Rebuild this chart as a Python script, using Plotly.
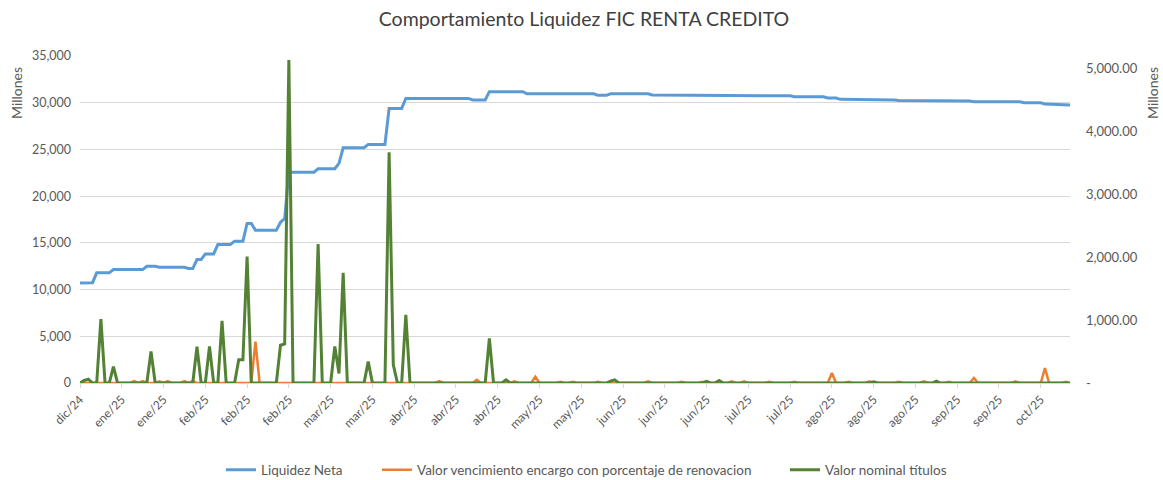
"""
Comportamiento Liquidez FIC RENTA CREDITO - linea de liquidez neta (eje izq.)
con vencimientos y valor nominal de titulos (eje der.), estilo Excel.
"""

import plotly.graph_objects as go

# ---------------------------------------------------------------------------
# Datos (millones), un punto por dia habil
# ---------------------------------------------------------------------------

liquidez_neta = [
    10710, 10710, 10740, 10740, 11790, 11790, 11790, 11790, 12140, 12140,
    12140, 12140, 12140, 12140, 12140, 12140, 12500, 12500, 12500, 12390,
    12390, 12390, 12390, 12390, 12390, 12390, 12250, 12250, 13210, 13210,
    13820, 13820, 13820, 14820, 14820, 14820, 14820, 15180, 15180, 15180,
    17070, 17070, 16360, 16360, 16360, 16360, 16360, 16360, 17200, 17600,
    22570, 22570, 22570, 22570, 22570, 22570, 22570, 22930, 22930, 22930,
    22930, 22930, 23500, 25180, 25180, 25180, 25180, 25180, 25180, 25540,
    25540, 25540, 25540, 25540, 29390, 29390, 29390, 29390, 30460, 30460,
    30460, 30460, 30460, 30460, 30460, 30460, 30460, 30460, 30460, 30460,
    30460, 30460, 30460, 30460, 30290, 30290, 30290, 30290, 31180, 31180,
    31180, 31180, 31180, 31180, 31180, 31180, 31180, 30960, 30960, 30960,
    30960, 30960, 30960, 30960, 30960, 30960, 30960, 30960, 30960, 30960,
    30960, 30960, 30960, 30960, 30790, 30790, 30790, 30960, 30960, 30960,
    30960, 30960, 30960, 30960, 30960, 30960, 30960, 30820, 30820, 30820,
    30820, 30820, 30820, 30820, 30820, 30820, 30820, 30820, 30820, 30820,
    30820, 30820, 30820, 30820, 30820, 30820, 30820, 30820, 30740, 30740,
    30740, 30740, 30740, 30740, 30740, 30740, 30740, 30740, 30740, 30740,
    30740, 30640, 30640, 30640, 30640, 30640, 30640, 30640, 30640, 30500,
    30500, 30500, 30360, 30360, 30360, 30360, 30360, 30360, 30360, 30360,
    30360, 30360, 30360, 30360, 30360, 30300, 30250, 30250, 30250, 30250,
    30250, 30250, 30250, 30250, 30250, 30250, 30250, 30250, 30250, 30250,
    30250, 30250, 30250, 30180, 30110, 30110, 30110, 30110, 30110, 30110,
    30110, 30110, 30110, 30110, 30110, 30110, 30000, 30000, 30000, 30000,
    30000, 29850, 29830, 29800, 29800, 29790, 29770, 29750,
]

# Series casi siempre en cero: posiciones (dia) y valores no nulos
titulos_dias = [1, 2, 5, 8, 17, 28, 31, 34, 38, 39, 40, 48, 49, 50, 57,
                61, 62, 63, 69, 74, 75, 78, 98, 102, 127, 128, 150, 153,
                190, 205]
titulos_valores = [40, 60, 1015, 260, 500, 575, 580, 985, 370, 370, 2005,
                   600, 620, 5125, 2205, 580, 150, 1750, 340, 3660, 290,
                   1080, 710, 50, 30, 50, 25, 40, 20, 30]

encargo_dias = [13, 15, 19, 21, 25, 27, 42, 86, 95, 104, 109, 115, 118,
                124, 136, 144, 149, 156, 159, 165, 171, 180, 184, 189,
                196, 202, 208, 214, 224, 231, 236]
encargo_valores = [30, 30, 25, 30, 30, 35, 655, 30, 50, 25, 100, 20, 20,
                   20, 25, 20, 20, 25, 25, 20, 20, 160, 20, 25, 20, 25, 20,
                   80, 25, 235, 20]

etiquetas_mes = [
    "dic/24", "ene/25", "ene/25", "feb/25", "feb/25", "feb/25", "mar/25",
    "mar/25", "abr/25", "abr/25", "abr/25", "may/25", "may/25", "jun/25",
    "jun/25", "jun/25", "jul/25", "jul/25", "ago/25", "ago/25", "ago/25",
    "sep/25", "sep/25", "oct/25",
]

# ---------------------------------------------------------------------------
# Estilo
# ---------------------------------------------------------------------------

_W, _H = 1163, 480
_FONT = "Lato"
_TEXT = "#595959"
_GRID = "#D9D9D9"
_AZUL = "#5B9BD5"
_NARANJA = "#ED7D31"
_VERDE = "#548235"

dias = list(range(len(liquidez_neta)))


def _serie_completa(posiciones, valores):
    """Expande la lista dispersa a un valor por dia (cero donde no hay dato)."""
    serie = [0] * len(dias)
    for p, v in zip(posiciones, valores):
        serie[p] = v
    return serie


def _leyenda(x_px):
    """Leyenda de una sola entrada, anclada en pixeles del contenedor."""
    return dict(
        orientation="h",
        xref="container", x=x_px / _W, xanchor="left",
        yref="container", y=1 - 470 / _H, yanchor="middle",
        font=dict(size=13.5, color=_TEXT),
        bgcolor="rgba(0,0,0,0)",
    )


titulos = _serie_completa(titulos_dias, titulos_valores)
encargo = _serie_completa(encargo_dias, encargo_valores)

fig = go.Figure()

fig.add_trace(go.Scatter(
    x=dias, y=liquidez_neta, mode="lines", name="Liquidez Neta",
    line=dict(color=_AZUL, width=3), yaxis="y", legend="legend",
))
fig.add_trace(go.Scatter(
    x=dias, y=encargo, mode="lines",
    name="Valor vencimiento encargo con porcentaje de renovacion",
    line=dict(color=_NARANJA, width=2.5), yaxis="y2", legend="legend2",
))
fig.add_trace(go.Scatter(
    x=dias, y=titulos, mode="lines", name="Valor nominal títulos",
    line=dict(color=_VERDE, width=3), yaxis="y2", legend="legend3",
))

der_vals = [0, 1000, 2000, 3000, 4000, 5000]
der_text = ["-"] + [f"{v:,.2f}" for v in der_vals[1:]]

fig.update_layout(
    width=_W,
    height=_H,
    margin=dict(l=80, r=93, t=56, b=97),
    paper_bgcolor="white",
    plot_bgcolor="white",
    font=dict(family=_FONT, color=_TEXT, size=12),
    title=dict(
        text="Comportamiento Liquidez FIC RENTA CREDITO",
        x=584 / _W, xref="container", xanchor="center",
        y=1 - 19 / _H, yref="container", yanchor="middle",
        font=dict(family=_FONT, size=19.5, color="#404040"),
    ),
    xaxis=dict(
        range=[0, len(dias) - 1],
        tickvals=dias[::10],
        ticktext=etiquetas_mes,
        tickangle=-45,
        showgrid=False,
        zeroline=False,
        showline=True,
        linecolor=_GRID,
        ticks="outside",
        ticklen=4,
        tickcolor=_GRID,
        automargin=False,
        tickfont=dict(size=12, color=_TEXT),
    ),
    yaxis=dict(
        range=[0, 35000],
        dtick=5000,
        tickformat=",",
        showgrid=True,
        gridcolor=_GRID,
        zeroline=False,
        showline=False,
        ticklabelstandoff=8,
        automargin=False,
        tickfont=dict(size=12.5, color=_TEXT),
    ),
    yaxis2=dict(
        overlaying="y",
        side="right",
        range=[0, 5190],
        tickvals=der_vals,
        ticktext=der_text,
        showgrid=False,
        zeroline=False,
        showline=False,
        ticklabelstandoff=15,
        automargin=False,
        tickfont=dict(size=13, color=_TEXT),
    ),
    legend=_leyenda(221),
    legend2=_leyenda(377),
    legend3=_leyenda(785),
    showlegend=True,
)

# Titulos de eje "Millones" arriba, como en Excel
for x_px in (16, 1152):
    fig.add_annotation(
        text="Millones", textangle=-90,
        xref="paper", x=(x_px - 80) / (_W - 80 - 93), xanchor="center",
        yref="paper", y=(383 - 93) / (383 - 56), yanchor="middle",
        showarrow=False, font=dict(size=14, color=_TEXT),
    )

# la pagina no debe tener el margen por defecto del <body>
fig.write_html(
    "out.html",
    config={"displayModeBar": False},
    post_script="document.body.style.margin = '0';",
)
